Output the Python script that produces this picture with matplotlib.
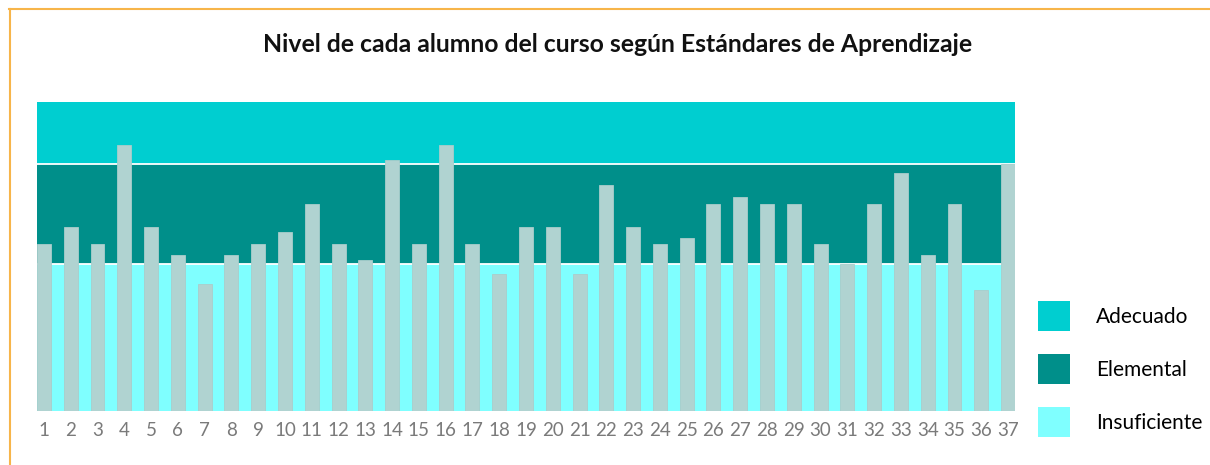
import numpy as np
import matplotlib.pyplot as plt
from matplotlib.patches import Patch
from matplotlib.lines import Line2D

# ---- data ----
alumnos = list(range(1, 38))
puntaje = [54.0, 59.5, 54.0, 86.1, 59.5, 50.5, 41.1, 50.5, 54.0, 57.9,
           67.0, 54.0, 48.9, 81.2, 54.0, 86.1, 54.0, 44.3, 59.5, 59.5,
           44.3, 73.1, 59.5, 54.0, 56.0, 67.0, 69.3, 67.0, 67.0, 54.0,
           47.6, 67.0, 77.0, 50.5, 67.0, 39.2, 80.0]
niveles = ['Insuficiente', 'Elemental', 'Adecuado']
limites = [0, 47.6, 80.0, 100.0]
colores_nivel = ['#7FFFFF', '#008F8A', '#00CED0']
color_barra = '#B0D3D1'

fig = plt.figure(figsize=(12.1, 4.65), dpi=100)
ax = fig.add_axes([37 / 1210, 54 / 465, 978 / 1210, 309 / 465])

# bands for each level
for i in range(3):
    ax.axhspan(limites[i], limites[i + 1], color=colores_nivel[i], zorder=0, lw=0)
for lim in limites[1:3]:
    ax.axhline(lim, color='white', lw=1.3, zorder=1)

ax.bar(alumnos, puntaje, width=0.52, color=color_barra, edgecolor='#A9CDCB',
       linewidth=0.6, zorder=2)

ax.set_xlim(1 - 0.26, 37 + 0.26)
ax.set_ylim(0, 100)
ax.set_yticks([])
ax.set_xticks(alumnos)
ax.set_xticklabels([str(a) for a in alumnos], fontsize=13.5, color='#7A7A7A',
                   family='Lato')
ax.tick_params(axis='x', length=0, pad=8)
for s in ax.spines.values():
    s.set_visible(False)

fig.suptitle('Nivel de cada alumno del curso según Estándares de Aprendizaje',
             x=618 / 1210, y=1 - 45 / 465, va='center', fontsize=17.8,
             fontweight='bold', family='Lato', color='#111111')

handles = [Patch(facecolor=colores_nivel[i], edgecolor='none') for i in [2, 1, 0]]
labels = [niveles[i] for i in [2, 1, 0]]
fig.legend(handles, labels, loc='upper left',
           bbox_to_anchor=(1038 / 1210, 1 - 301 / 465),
           frameon=False, handlelength=1.54, handleheight=1.85,
           labelspacing=1.1, handletextpad=1.25, borderpad=0, borderaxespad=0,
           prop={'family': 'Lato', 'size': 15})

# orange frame (top and left edges)
fig.add_artist(Line2D([9 / 1210, 1.0], [1 - 9.5 / 465, 1 - 9.5 / 465],
                      color='#F7B54A', lw=1.5, transform=fig.transFigure))
fig.add_artist(Line2D([9.5 / 1210, 9.5 / 1210], [0, 1 - 9.5 / 465],
                      color='#F7B54A', lw=1.5, transform=fig.transFigure))

fig.savefig('out.png', dpi=100)
